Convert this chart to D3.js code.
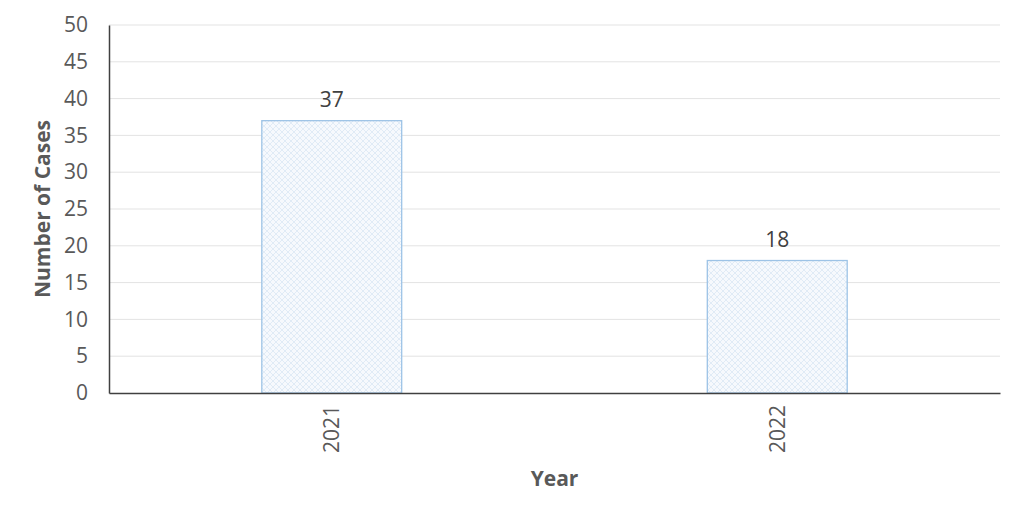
<!DOCTYPE html>
<html><head><meta charset="utf-8">
<script src="https://cdn.jsdelivr.net/npm/d3@7"></script>
<style>body{margin:0;background:#fff}svg{display:block}</style>
</head><body><svg id="c" width="1024" height="520"></svg>
<script>
const categories = ["2021", "2022"];
const values = [37, 18];
const yTicks = [0, 5, 10, 15, 20, 25, 30, 35, 40, 45, 50];

const svg = d3.select("#c");
const m = {left: 109, right: 1000, top: 25, bottom: 393};
const font = "'Open Sans', 'Liberation Sans', sans-serif";
const x = d3.scaleBand().domain(categories).range([m.left, m.right]).paddingInner(0.686).paddingOuter(0.343);
const y = d3.scaleLinear().domain([0, 50]).range([m.bottom, m.top]);

const defs = svg.append("defs");
const p = defs.append("pattern").attr("id", "hatch").attr("patternUnits", "userSpaceOnUse").attr("width", 6).attr("height", 6);
p.append("rect").attr("width", 6).attr("height", 6).attr("fill", "#f6f9fd");
p.append("path").attr("d", "M0,0L6,6M6,0L0,6").attr("stroke", "#e0ebf6").attr("stroke-width", 1);

// gridlines
svg.append("g").selectAll("line").data(yTicks.filter(d => d > 0)).join("line")
  .attr("x1", m.left).attr("x2", m.right).attr("y1", d => y(d)).attr("y2", d => y(d))
  .attr("stroke", "#e3e3e3").attr("stroke-width", 1);

// y axis
const ya = svg.append("g").attr("transform", `translate(${m.left},0)`)
  .call(d3.axisLeft(y).tickValues(yTicks).tickSize(0).tickPadding(21));
ya.select(".domain").attr("stroke", "#404040").attr("stroke-width", 1.5);
ya.selectAll("text").attr("font-family", font).attr("font-size", 21).attr("fill", "#595959");

// bars
svg.append("g").selectAll("rect").data(values).join("rect")
  .attr("x", (d, i) => x(categories[i])).attr("width", x.bandwidth())
  .attr("y", d => y(d)).attr("height", d => y(0) - y(d))
  .attr("fill", "url(#hatch)").attr("stroke", "#9dc3e6").attr("stroke-width", 1.3);

// labels
svg.append("g").selectAll("text").data(values).join("text")
  .attr("x", (d, i) => x(categories[i]) + x.bandwidth() / 2).attr("y", d => y(d) - 14)
  .attr("text-anchor", "middle").attr("font-family", font).attr("font-size", 21).attr("fill", "#404040")
  .text(d => d);

// x axis
const xa = svg.append("g").attr("transform", `translate(0,${m.bottom})`)
  .call(d3.axisBottom(x).tickSize(0).tickPadding(0));
xa.select(".domain").attr("stroke", "#404040").attr("stroke-width", 1.5);
xa.selectAll("text").attr("font-family", font).attr("font-size", 21).attr("fill", "#595959")
  .attr("transform", "rotate(-90)").attr("text-anchor", "end").attr("dy", "0.35em").attr("x", -12).attr("y", 0);

// titles
svg.append("text").attr("x", (m.left + m.right) / 2).attr("y", 486).attr("text-anchor", "middle")
  .attr("font-family", font).attr("font-size", 21).attr("font-weight", "bold").attr("fill", "#595959").text("Year");
svg.append("text").attr("transform", `translate(50,${(m.top + m.bottom) / 2}) rotate(-90)`).attr("text-anchor", "middle")
  .attr("font-family", font).attr("font-size", 21).attr("font-weight", "bold").attr("fill", "#595959").text("Number of Cases");
</script></body></html>
